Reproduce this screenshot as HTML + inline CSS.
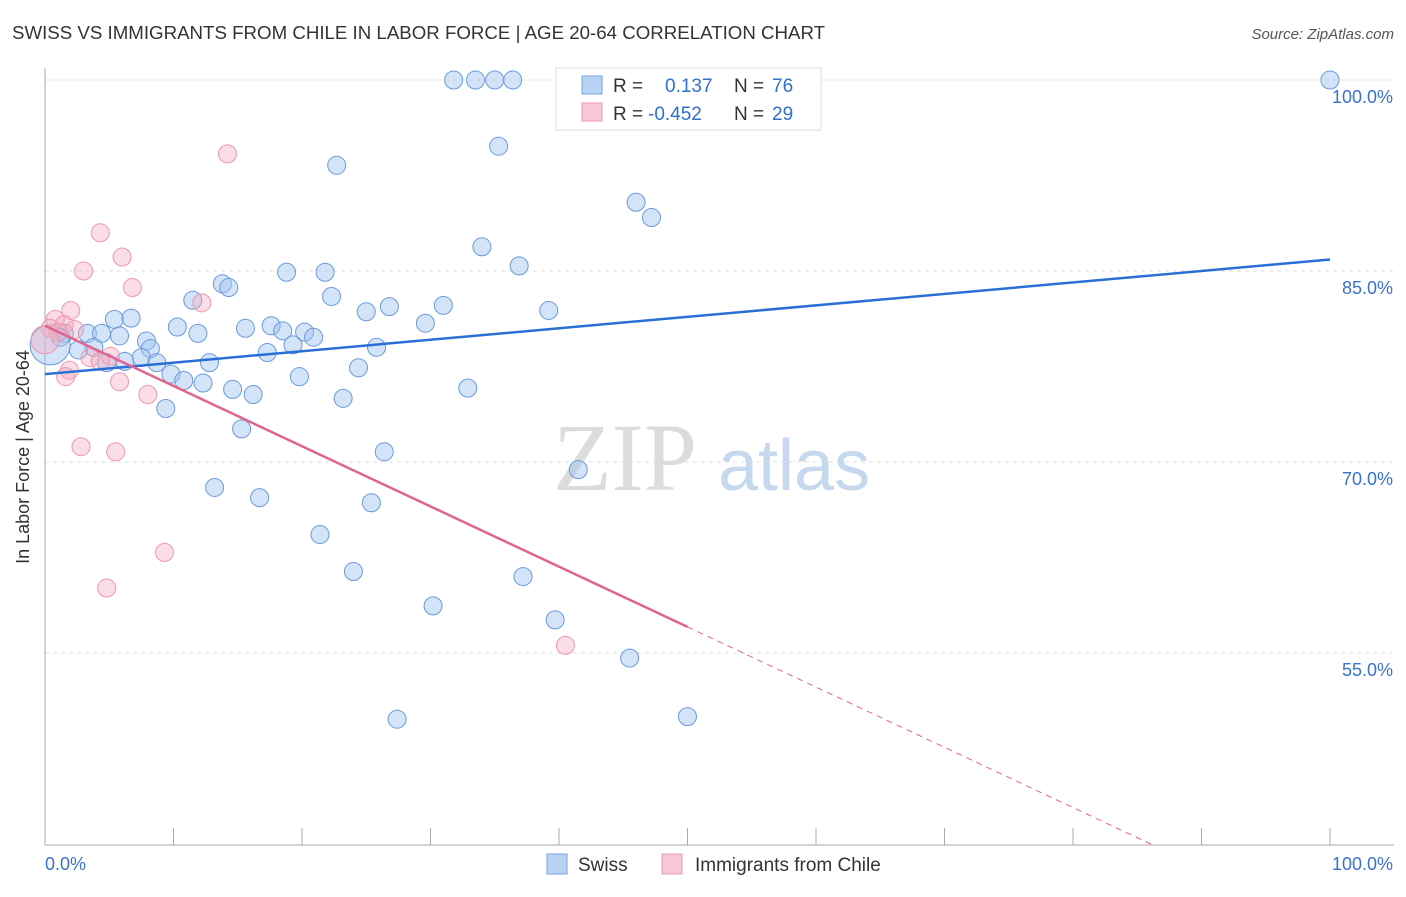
<!DOCTYPE html>
<html><head><meta charset="utf-8"><style>
body{margin:0;background:#fff;font-family:"Liberation Sans",sans-serif;}
</style></head><body>
<svg width="1406" height="892" xmlns="http://www.w3.org/2000/svg" id="chart" font-family="Liberation Sans, sans-serif">
<text x="12" y="39" font-size="18.7" fill="#333">SWISS VS IMMIGRANTS FROM CHILE IN LABOR FORCE | AGE 20-64 CORRELATION CHART</text>
<text x="1394" y="39" font-size="15" fill="#555" text-anchor="end" font-style="italic">Source: ZipAtlas.com</text>
<g>
<text x="553" y="490" font-size="96" font-family="Liberation Serif, serif" fill="#dcdcdc">ZIP</text>
<text x="718" y="490" font-size="72" fill="#c6d8ee">atlas</text>
</g>
<g id="grid"></g>
<g id="axes"></g>
<g id="pts"></g>
<g id="trends"></g>
<text x="29" y="457" font-size="18" fill="#333" text-anchor="middle" transform="rotate(-90 29 457)">In Labor Force | Age 20-64</text>
<g>
<rect x="556" y="68" width="265" height="62" fill="#fff" stroke="#ddd"/>
<rect x="582" y="76" width="20" height="18" fill="#b8d2f4" stroke="#7aa6e0"/>
<text x="613" y="92" font-size="19" fill="#333">R =</text>
<text x="665" y="92" font-size="19" fill="#2f6fd0">0.137</text>
<text x="734" y="92" font-size="19" fill="#333">N =</text>
<text x="772" y="92" font-size="19" fill="#2f6fd0">76</text>
<rect x="582" y="103" width="20" height="18" fill="#f9c6d4" stroke="#eb9ab2"/>
<text x="613" y="120" font-size="19" fill="#333">R =</text>
<text x="648" y="120" font-size="19" fill="#2f6fd0">-0.452</text>
<text x="734" y="120" font-size="19" fill="#333">N =</text>
<text x="772" y="120" font-size="19" fill="#2f6fd0">29</text>
</g>
<g>
<rect x="547" y="854" width="20" height="20" fill="#b8d2f4" stroke="#7aa6e0"/>
<text x="578" y="871" font-size="19" fill="#333">Swiss</text>
<rect x="662" y="854" width="20" height="20" fill="#f9c6d4" stroke="#eb9ab2"/>
<text x="695" y="871" font-size="19" fill="#333">Immigrants from Chile</text>
</g>
</svg>
<script>
const yTicks=[55,70,85,100];
const yTickLabels=["55.0%","70.0%","85.0%","100.0%"];
const xTickLabels=["0.0%","100.0%"];
const swissX=[31.8,33.5,35.0,36.4,100,22.7,35.3,46.0,47.2,34.0,36.9,18.8,21.8,13.8,14.3,11.5,22.3,25.0,26.8,31.0,39.2,29.6,5.4,6.7,10.3,11.9,15.6,17.6,18.5,20.2,20.9,3.3,4.4,5.8,1.5,1.2,7.9,19.3,17.3,25.8,3.8,2.6,8.2,7.5,4.8,6.2,8.7,12.8,24.4,9.8,10.8,12.3,19.8,14.6,16.2,23.2,32.9,9.4,15.3,26.4,41.5,13.2,16.7,25.4,21.4,24.0,37.2,30.2,39.7,45.5,27.4,50.0,0.4];
const swissY=[100,100,100,100,100,93.3,94.8,90.4,89.2,86.9,85.4,84.9,84.9,84.0,83.7,82.7,83.0,81.8,82.2,82.3,81.9,80.9,81.2,81.3,80.6,80.1,80.5,80.7,80.3,80.2,79.8,80.1,80.1,79.9,80.1,79.8,79.5,79.2,78.6,79.0,79.0,78.8,78.9,78.2,77.8,77.9,77.8,77.8,77.4,76.9,76.4,76.2,76.7,75.7,75.3,75.0,75.8,74.2,72.6,70.8,69.4,68.0,67.2,66.8,64.3,61.4,61.0,58.7,57.6,54.6,49.8,50.0,79.2];
const chileX=[14.2,4.3,6.0,3.0,6.8,12.2,2.0,0.8,1.5,0.4,2.3,1.0,3.5,5.1,4.3,1.9,1.6,5.8,8.0,2.8,5.5,9.3,4.8,40.5,0];
const chileY=[94.2,88.0,86.1,85.0,83.7,82.5,81.9,81.2,80.8,80.5,80.4,80.2,78.2,78.3,77.9,77.2,76.7,76.3,75.3,71.2,70.8,62.9,60.1,55.6,79.6];
const swissTrend=[76.9,85.9];
const chileTrend=[80.7,-0.473];
const X=v=>45+v*12.85, Y=v=>80+(100-v)*12.733;
const NS="http://www.w3.org/2000/svg";
function mk(t,a,p){const e=document.createElementNS(NS,t);for(const k in a)e.setAttribute(k,a[k]);p.appendChild(e);return e;}
const grid=document.getElementById('grid'),axes=document.getElementById('axes'),pts=document.getElementById('pts'),tr=document.getElementById('trends');
yTicks.forEach((v,i)=>{
 const l=mk('line',{x1:45,x2:1394,y1:Y(v),y2:Y(v),stroke:'#ddd','stroke-dasharray':'4,4'},grid);
 
 
 const t=mk('text',{x:1393,y:Y(v)+23,'font-size':18,fill:'#3a72cc','text-anchor':'end'},axes);
 t.textContent=yTickLabels[i];
 
 
});
const ya=mk('line',{x1:45,x2:45,y1:68,y2:845,stroke:'#aaa'},axes);


const xa=mk('line',{x1:45,x2:1394,y1:845,y2:845,stroke:'#aaa'},axes);


for(let i=0;i<=10;i++){const t=mk('line',{x1:X(i*10),x2:X(i*10),y1:828,y2:845,stroke:'#aaa'},axes);
 
 }
[[0,'start',45],[1,'end',1393]].forEach(([i,a,x])=>{const t=mk('text',{x:x,y:870,'font-size':18,fill:'#3a72cc','text-anchor':a},axes);t.textContent=xTickLabels[i];
 
 });
swissX.forEach((v,i)=>{const big=i===swissX.length-1;
 const c=mk('circle',{cx:X(v),cy:Y(swissY[i]),r:big?20:9,fill:'rgba(160,196,240,0.45)',stroke:'#6a9ada','stroke-width':1},pts);
 
 });
chileX.forEach((v,i)=>{const big=i===chileX.length-1;
 const c=mk('circle',{cx:X(v),cy:Y(chileY[i]),r:big?14:9,fill:'rgba(245,170,190,0.4)',stroke:'#eb98b0','stroke-width':1},pts);
 
 });
const b=mk('line',{x1:X(0),y1:Y(swissTrend[0]),x2:X(100),y2:Y(swissTrend[1]),stroke:'#2a6fd6','stroke-width':2.5},tr);


const f=x=>chileTrend[0]+chileTrend[1]*x;
const p=mk('line',{x1:X(0),y1:Y(f(0)),x2:X(50),y2:Y(f(50)),stroke:'#e0648e','stroke-width':2.5},tr);


const xe=(chileTrend[0]-39.9)/(-chileTrend[1]);
const d=mk('line',{x1:X(50),y1:Y(f(50)),x2:X(xe),y2:Y(f(xe)),stroke:'#e0648e','stroke-width':1,'stroke-dasharray':'6,5'},tr);


</script>
</body></html>
